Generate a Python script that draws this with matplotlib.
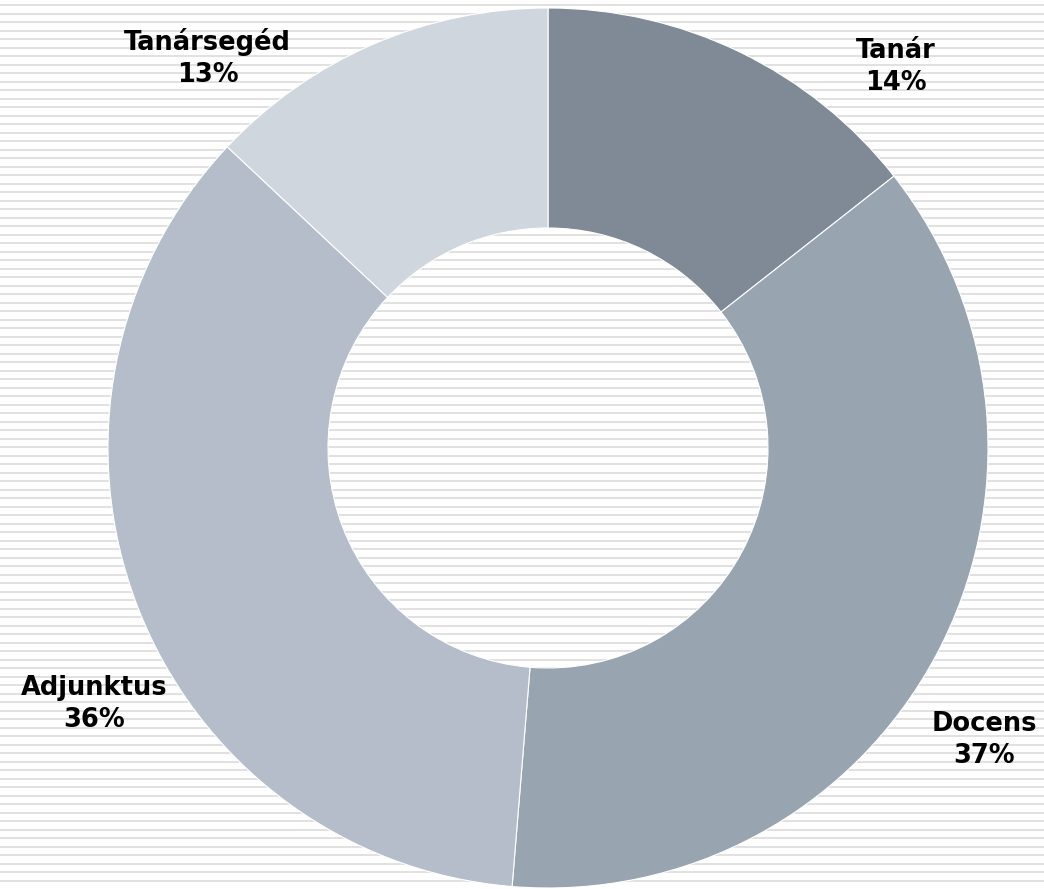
import matplotlib.pyplot as plt
import numpy as np

categories = ["Tanár", "Docens", "Adjunktus", "Tanársegéd"]
values = [14.4, 36.9, 35.7, 13.0]
colors = ["#7f8a96", "#98a5b1", "#b4bdc9", "#d0d6de"]

# label positions in data units (pie radius = 1)
label_pos = [(0.791, 0.866), (0.991, -0.663), (-1.032, -0.582), (-0.774, 0.886)]

fig = plt.figure(figsize=(10.44, 8.89), dpi=100)

# striped background
bg = fig.add_axes([0, 0, 1, 1])
bg.set_xlim(0, 1044)
bg.set_ylim(889, 0)
for y in np.arange(5, 889, 8.5):
    bg.axhline(y, color="#d9d9d9", linewidth=1.1)
bg.axis("off")

ax = fig.add_axes([108 / 1044, 1 / 889, 880 / 1044, 880 / 889])
ax.pie(values, colors=colors, startangle=90, counterclock=False,
       radius=1, wedgeprops=dict(width=0.5, edgecolor="white", linewidth=0.8))
ax.set_xlim(-1, 1)
ax.set_ylim(-1, 1)
ax.set_aspect("equal")

for name, v, (x, y) in zip(categories, values, label_pos):
    ax.text(x, y, f"{name}\n{round(v):d}%", ha="center", va="center",
            fontsize=18.5, fontweight="bold", family="DejaVu Sans",
            linespacing=1.3, clip_on=False)

fig.savefig("out.png", dpi=100)
